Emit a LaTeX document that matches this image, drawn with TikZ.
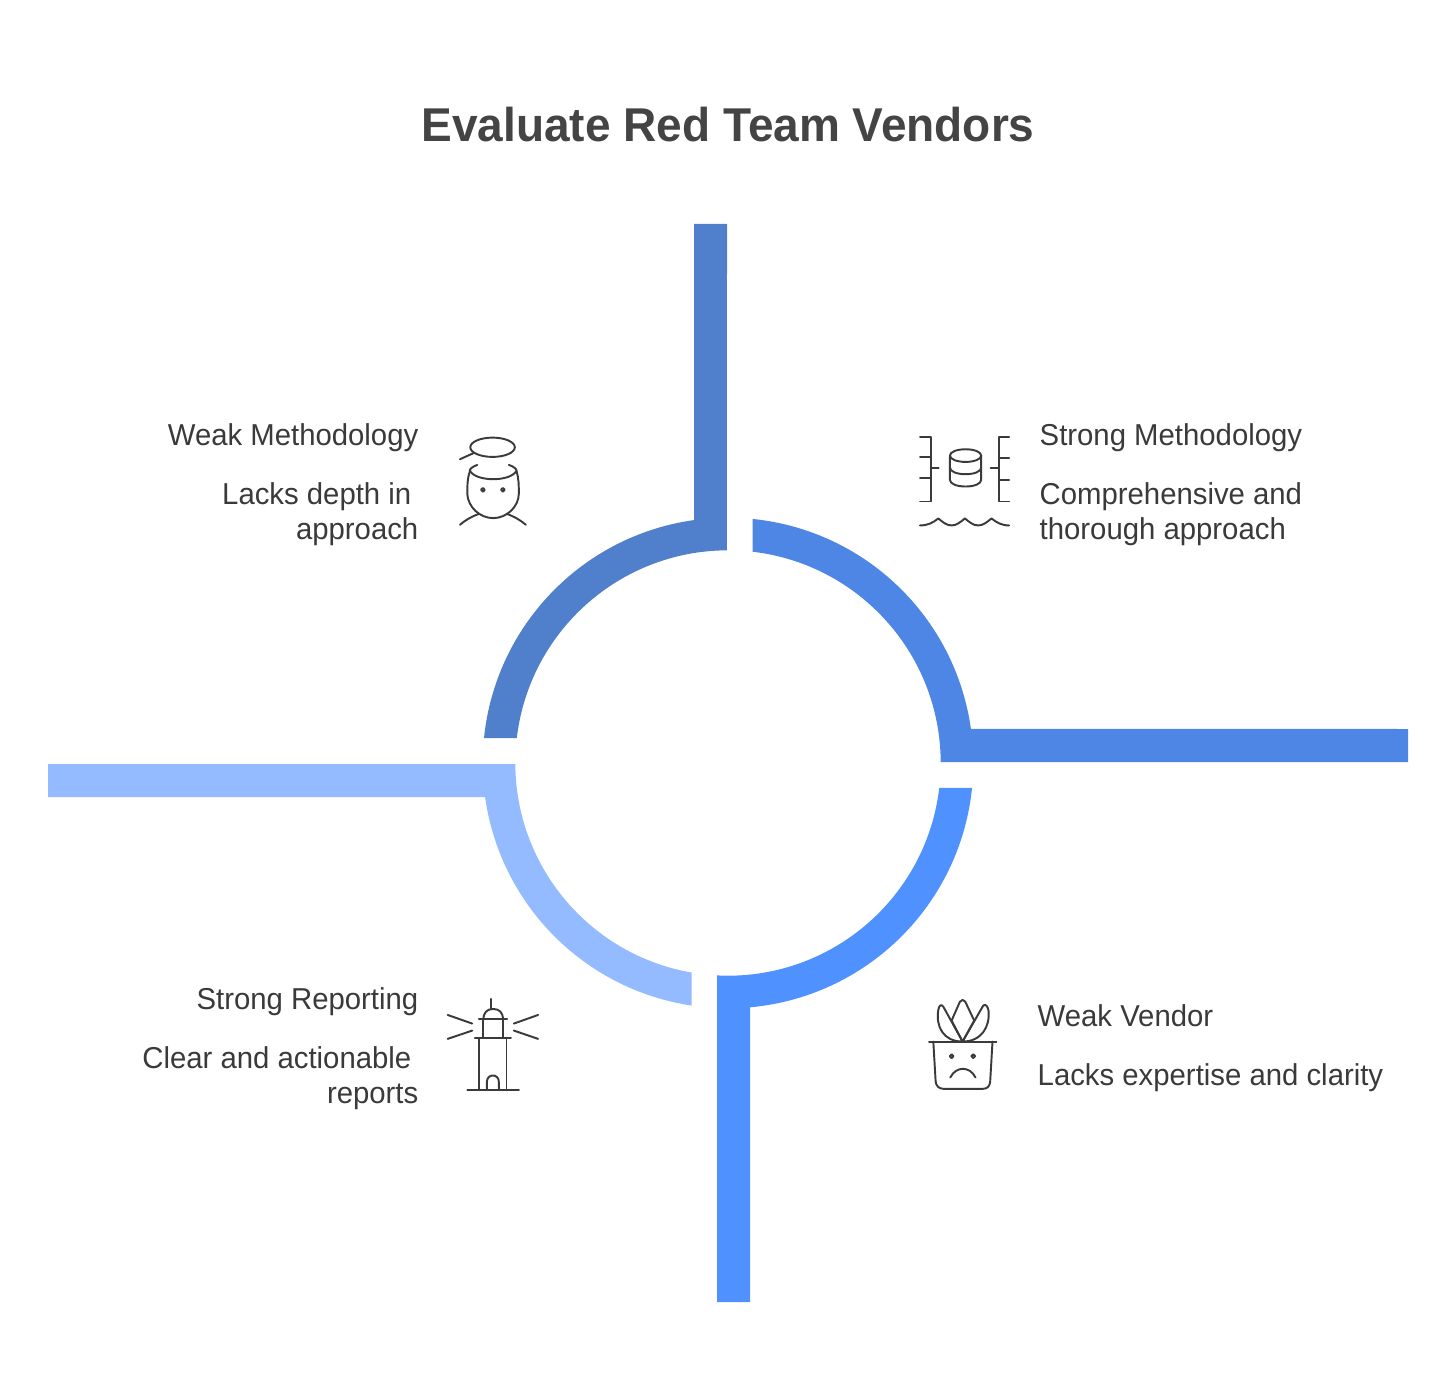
\documentclass[tikz,border=0pt]{standalone}
\usepackage{fontspec}
\setmainfont[FakeStretch=0.97]{Liberation Sans}
\definecolor{topleft}{HTML}{5080CC}
\definecolor{topright}{HTML}{4D86E5}
\definecolor{botright}{HTML}{4F91FF}
\definecolor{botleft}{HTML}{94BBFF}
\definecolor{ink}{HTML}{3A3A3A}
\tikzset{
    icon/.style={x=0.0033333cm, y=-0.0033333cm, draw=ink, line width=0.55pt, line cap=round, line join=round},
    headtext/.style={inner sep=0, text=ink, font=\fontsize{8.6}{10}\selectfont},
    bodytext/.style={inner sep=0, text=ink, font=\fontsize{8.6}{9.96}\selectfont}
}
\begin{document}
\begin{tikzpicture}

    \useasboundingbox (0,0) rectangle (14.56,13.97);

    \node [anchor=base, inner sep=0, text=ink!95!white, font=\fontsize{13.5}{16}\selectfont\bfseries] (title) at (7.28,12.55) {Evaluate Red Team Vendors};

    \begin{scope}[shift={(7.28,6.34)}]
        \fill [topleft] (-0.34,5.39) -- (-0.01,5.39) -- (90.3:2.127) arc [start angle=90.3, end angle=173.25, radius=2.127]
            -- (174.15:2.453) arc [start angle=174.15, end angle=97.97, radius=2.453] -- cycle;
        \fill [topright] (84.22:2.453) arc [start angle=84.22, end angle=7.97, radius=2.453] -- (6.80,0.34) -- (6.80,0.01)
            -- (0.27:2.127) arc [start angle=0.27, end angle=83.33, radius=2.127] -- cycle;
        \fill [botright] (-0.11,-5.39) -- (267.04:2.127) arc [start angle=267.04, end angle=353.25, radius=2.127]
            -- (354.15:2.453) arc [start angle=354.15, end angle=275.15, radius=2.453] -- (0.22,-5.39) -- cycle;
        \fill [botleft] (-6.80,-0.01) -- (180.3:2.127) arc [start angle=180.3, end angle=260.17, radius=2.127]
            -- (261.49:2.453) arc [start angle=261.49, end angle=187.97, radius=2.453] -- (-6.80,-0.34) -- cycle;
    \end{scope}

    \node [headtext, anchor=base east] (weakmethod) at (4.19,9.51) {Weak Methodology};
    \node [bodytext, anchor=north east, align=right] (weakmethodtext) at (4.19,9.15) {Lacks depth in\hspace*{0.7mm}\\approach};

    \node [headtext, anchor=base west] (strongmethod) at (10.39,9.51) {Strong Methodology};
    \node [bodytext, anchor=north west, align=left] (strongmethodtext) at (10.39,9.15) {Comprehensive and\\thorough approach};

    \node [headtext, anchor=base east] (strongreport) at (4.19,3.88) {Strong Reporting};
    \node [bodytext, anchor=north east, align=right] (strongreporttext) at (4.19,3.51) {Clear and actionable\hspace*{0.7mm}\\reports};

    \node [headtext, anchor=base west] (weakvendor) at (10.37,3.71) {Weak Vendor};
    \node [bodytext, anchor=north west, align=left] (weakvendortext) at (10.37,3.34) {Lacks expertise and clarity};

    \begin{scope}[shift={(4.40,9.77)}, icon]
        \draw (158,53) .. controls (195,53) and (225,66) .. (225,82) .. controls (225,98) and (195,111) .. (158,111)
            .. controls (121,111) and (91,98) .. (91,82) .. controls (91,66) and (121,53) .. (158,53) -- cycle;
        \draw (100,100) -- (60,118);
        \draw (112,135) .. controls (98,140) and (88,148) .. (90,153) .. controls (100,170) and (130,178) .. (160,178)
            .. controls (190,178) and (220,170) .. (230,153) .. controls (231,148) and (222,140) .. (207,135);
        \draw (90,153) .. controls (82,175) and (82,200) .. (82,222) .. controls (84,262) and (120,295) .. (160,295)
            .. controls (200,295) and (236,262) .. (237,222) .. controls (237,200) and (237,175) .. (230,153);
        \draw (129,210) circle [radius=0.19mm];
        \draw (189,210) circle [radius=0.19mm];
        \draw (60,315) .. controls (75,302) and (95,290) .. (118,282);
        \draw (258,315) .. controls (243,302) and (223,290) .. (200,282);
    \end{scope}

    \begin{scope}[shift={(9.05,9.77)}, icon]
        \draw (45,50) -- (77,50) -- (77,245) -- (45,245);
        \draw (45,110) -- (77,110);
        \draw (45,175) -- (77,175);
        \draw (77,143) -- (101,143);
        \draw (313,50) -- (282,50) -- (282,245) -- (313,245);
        \draw (282,115) -- (313,115);
        \draw (282,180) -- (313,180);
        \draw (257,143) -- (282,143);
        \draw (135,107) .. controls (135,96) and (156,88) .. (182,88) .. controls (208,88) and (229,96) .. (229,107)
            .. controls (229,118) and (208,126) .. (182,126) .. controls (156,126) and (135,118) .. (135,107) -- cycle;
        \draw (135,107) -- (135,180) .. controls (135,192) and (156,200) .. (182,200) .. controls (208,200) and (229,192) .. (229,180) -- (229,107);
        \draw (135,143) .. controls (135,155) and (156,163) .. (182,163) .. controls (208,163) and (229,155) .. (229,143);
        \draw (45,317) .. controls (70,317) and (85,308) .. (100,296) .. controls (115,308) and (125,317) .. (140,317)
            .. controls (155,317) and (165,308) .. (180,296) .. controls (195,308) and (205,317) .. (220,317)
            .. controls (235,317) and (245,308) .. (260,296) .. controls (275,308) and (290,317) .. (313,317);
    \end{scope}

    \begin{scope}[shift={(4.35,4.12)}, icon]
        \draw (168,42) -- (168,72);
        \draw (145,102) .. controls (147,84) and (155,72) .. (175,72) .. controls (195,72) and (203,84) .. (205,102);
        \draw (132,102) -- (217,102);
        \draw (145,102) -- (145,160);
        \draw (205,102) -- (205,160);
        \draw (120,160) -- (228,160);
        \draw (133,160) -- (133,315);
        \draw (215,160) -- (215,315);
        \draw (97,315) -- (252,315);
        \draw (156,315) -- (156,292) .. controls (156,279) and (164,272) .. (174,272) .. controls (184,272) and (192,279) .. (192,292) -- (192,315);
        \draw (38,90) -- (112,116);
        \draw (38,162) -- (112,137);
        \draw (310,90) -- (237,116);
        \draw (310,162) -- (237,137);
    \end{scope}

    \begin{scope}[shift={(9.15,4.07)}, icon]
        \draw (42,155) -- (245,155);
        \draw (55,155) -- (62,275) .. controls (63,288) and (72,297) .. (85,297) -- (205,297) .. controls (218,297) and (225,288) .. (226,275) -- (233,155);
        \draw (110,199) circle [radius=0.19mm];
        \draw (175,199) circle [radius=0.19mm];
        \draw (106,263) .. controls (115,245) and (130,237) .. (144,237) .. controls (158,237) and (173,245) .. (182,263);
        \draw (143,155) -- (110,92) -- (135,35) .. controls (139,28) and (147,28) .. (151,35) -- (178,92) -- cycle;
        \draw (143,155) -- (85,50) .. controls (78,40) and (72,48) .. (70,60) .. controls (62,110) and (85,155) .. (143,155);
        \draw (143,155) -- (205,47) .. controls (212,40) and (219,50) .. (221,62) .. controls (226,110) and (200,155) .. (143,155);
    \end{scope}

\end{tikzpicture}
\end{document}
